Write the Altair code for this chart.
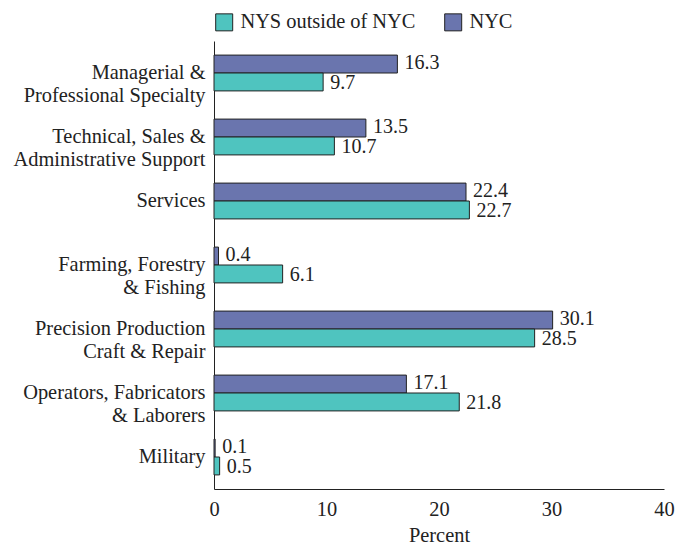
import altair as alt
import pandas as pd

categories = [
    "Managerial &|Professional Specialty",
    "Technical, Sales &|Administrative Support",
    "Services",
    "Farming, Forestry|& Fishing",
    "Precision Production|Craft & Repair",
    "Operators, Fabricators|& Laborers",
    "Military",
]
nyc = [16.3, 13.5, 22.4, 0.4, 30.1, 17.1, 0.1]
nys_outside = [9.7, 10.7, 22.7, 6.1, 28.5, 21.8, 0.5]
series = ["NYS outside of NYC", "NYC"]
colors = ["#4fc4bf", "#6a75ae"]

rows = []
for c, a, b in zip(categories, nyc, nys_outside):
    rows.append({"cat": c, "series": "NYC", "value": a, "ord": 0})
    rows.append({"cat": c, "series": "NYS outside of NYC", "value": b, "ord": 1})
df = pd.DataFrame(rows)

FONT = "Liberation Serif"
FS = 20.4

y = alt.Y(
    "cat:N",
    sort=categories,
    scale=alt.Scale(paddingInner=0.44, paddingOuter=0.22),
    axis=alt.Axis(
        title=None,
        labelExpr="split(datum.label, '|')",
        labelFontSize=FS,
        labelLineHeight=23,
        labelPadding=9,
        ticks=False,
        labelLimit=400,
        domainColor="#222",
        labelColor="#222",
        labelFont=FONT,
    ),
)

base = alt.Chart(df).encode(
    y=y,
    yOffset=alt.YOffset("ord:O", scale=alt.Scale(paddingInner=0.0)),
)

bars = base.mark_bar(stroke="#222", strokeWidth=1).encode(
    x=alt.X(
        "value:Q",
        scale=alt.Scale(domain=[0, 40]),
        axis=alt.Axis(
            values=[0, 10, 20, 30, 40],
            grid=False,
            ticks=False,
            labelFlush=False,
            title="Percent",
            titleFontSize=FS,
            titleFont=FONT,
            titleFontWeight="normal",
            titlePadding=6,
            labelFontSize=FS,
            labelFont=FONT,
            labelPadding=10,
            domainColor="#222",
            labelColor="#222",
            titleColor="#222",
        ),
    ),
    color=alt.Color(
        "series:N",
        scale=alt.Scale(domain=series, range=colors),
        legend=alt.Legend(
            title=None,
            orient="top",
            direction="horizontal",
            symbolType="square",
            symbolSize=289,
            symbolStrokeColor="#222",
            symbolStrokeWidth=1,
            labelFontSize=FS,
            labelFont=FONT,
            labelColor="#222",
            labelLimit=400,
            columnPadding=26,
            labelOffset=6,
            offset=8,
        ),
    ),
)

labels_nyc = base.mark_text(
    align="left", baseline="middle", dx=7, dy=-1.5, fontSize=20, font=FONT, color="#222"
).encode(
    x="value:Q",
    text=alt.Text("value:Q", format=".1f"),
).transform_filter(alt.datum.series == "NYC")

labels_nys = base.mark_text(
    align="left", baseline="middle", dx=7, dy=1.5, fontSize=20, font=FONT, color="#222"
).encode(
    x="value:Q",
    text=alt.Text("value:Q", format=".1f"),
).transform_filter(alt.datum.series == "NYS outside of NYC")

chart = (
    alt.layer(bars, labels_nyc, labels_nys, view=alt.ViewBackground(stroke=None, strokeWidth=0))
    .properties(width=450, height=448, padding={"left": 5, "top": 4, "right": 5, "bottom": 0})
    .configure_view(strokeWidth=0)
    .configure(font=FONT)
)

chart.save("out.html", embed_options={"renderer": "svg", "actions": False})
